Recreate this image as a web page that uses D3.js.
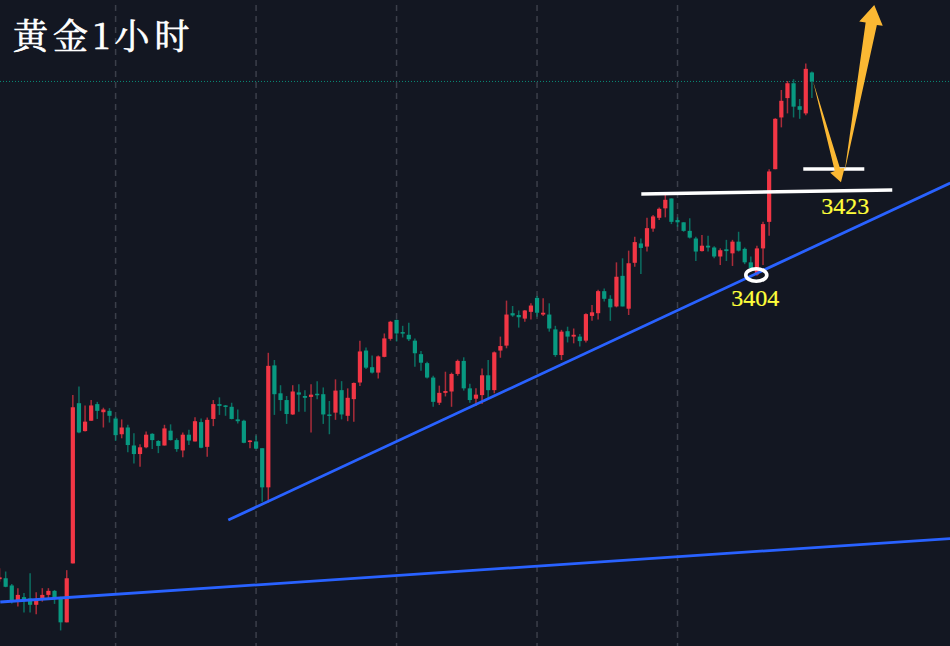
<!DOCTYPE html>
<html>
<head>
<meta charset="utf-8">
<script src="https://cdn.jsdelivr.net/npm/d3@7"></script>
<style>
  html, body { margin: 0; padding: 0; background: #131722; overflow: hidden; }
</style>
</head>
<body>
<svg id="chart" width="950" height="646"></svg>
<script>
// 1 hour gold candles, prices
var opens = [
  3336.3,3336.5,3334.9,3331.5,3332.3,3332.0,3330.6,3332.0,3332.8,3333.7,
  3332.0,3326.7,3339.8,3375.4,3369.2,3371.5,3375.2,3373.4,3373.7,3372.0,
  3368.5,3370.0,3366.0,3364.1,3365.6,3368.6,3367.0,3366.0,3369.3,3367.2,
  3364.9,3368.4,3366.9,3371.2,3365.7,3371.9,3375.2,3374.9,3374.6,3371.8,
  3371.5,3366.8,3366.9,3365.4,3356.7,3383.8,3377.6,3376.1,3372.9,3377.8,
  3377.0,3376.8,3377.5,3377.4,3372.9,3373.3,3378.3,3372.6,3376.3,3380.0,
  3387.1,3383.4,3382.2,3385.7,3389.7,3393.9,3391.2,3390.6,3389.3,3386.3,
  3384.3,3381.1,3375.5,3377.7,3378.0,3381.9,3384.8,3378.7,3376.4,3377.2,
  3381.6,3378.3,3387.1,3388.2,3395.4,3395.0,3394.2,3395.7,3398.8,3395.1,
  3395.1,3391.8,3386.1,3391.4,3390.2,3390.2,3389.3,3394.8,3395.4,3400.3,
  3398.6,3396.9,3403.7,3396.4,3406.6,3410.9,3410.2,3414.2,3416.6,3418.7,
  3420.9,3416.1,3415.6,3413.7,3412.0,3409.2,3410.4,3410.0,3408.0,3409.6,
  3408.7,3411.3,3409.7,3406.7,3404.0,3409.8,3415.7,3427.4,3438.9,3443.2,
  3446.5,3441.4,3439.8,3448.9
];
var highs = [
  3338.7,3338.0,3335.2,3334.3,3333.2,3337.6,3333.4,3334.3,3334.3,3333.9,
  3332.4,3338.3,3377.2,3379.1,3374.9,3376.1,3375.7,3374.4,3374.3,3372.4,
  3371.8,3370.6,3368.7,3366.3,3369.1,3368.7,3367.2,3370.6,3370.7,3367.6,
  3368.9,3369.5,3372.3,3372.0,3372.2,3376.1,3376.7,3375.0,3375.5,3374.0,
  3371.7,3367.2,3368.2,3365.4,3386.6,3385.0,3379.4,3377.0,3379.4,3379.6,
  3378.3,3379.6,3380.3,3378.9,3375.9,3380.7,3380.3,3378.7,3380.0,3389.3,
  3387.8,3386.0,3386.0,3390.9,3393.7,3394.0,3392.6,3393.3,3389.8,3387.0,
  3384.6,3381.5,3379.3,3382.4,3382.2,3385.1,3385.6,3379.7,3378.7,3383.1,
  3385.0,3386.9,3390.2,3398.2,3397.0,3396.0,3396.1,3397.6,3399.2,3398.7,
  3397.6,3392.6,3391.7,3392.4,3392.0,3390.8,3395.4,3397.2,3400.6,3400.9,
  3399.4,3406.7,3407.6,3409.3,3412.4,3412.0,3416.6,3417.2,3418.9,3421.7,
  3420.9,3416.7,3415.6,3416.5,3412.4,3412.8,3412.6,3410.3,3409.8,3411.7,
  3411.7,3413.5,3410.0,3408.0,3410.4,3415.7,3427.4,3438.7,3445.0,3447.0,
  3447.4,3443.0,3450.9,3449.1
];
var lows = [
  3335.7,3334.5,3330.9,3330.2,3328.9,3328.9,3328.5,3331.3,3332.0,3330.8,
  3324.9,3326.7,3339.8,3368.7,3369.1,3371.5,3371.9,3370.0,3371.1,3367.0,
  3367.6,3364.5,3362.0,3361.3,3365.4,3365.2,3364.3,3366.0,3367.1,3364.6,
  3363.4,3366.1,3366.9,3365.4,3363.5,3370.3,3372.8,3372.6,3371.8,3370.9,
  3366.5,3365.4,3365.2,3353.5,3353.3,3372.8,3373.7,3370.8,3372.8,3373.5,
  3373.5,3368.9,3376.3,3370.8,3368.5,3371.7,3371.8,3371.4,3371.3,3379.2,
  3383.0,3382.0,3380.9,3385.6,3389.3,3389.1,3390.0,3389.2,3383.5,3382.6,
  3380.9,3374.6,3375.0,3376.9,3374.6,3381.5,3378.2,3375.5,3374.8,3375.2,
  3376.5,3377.6,3385.5,3387.6,3394.6,3392.2,3393.5,3394.0,3394.6,3394.8,
  3391.3,3385.7,3385.0,3388.9,3388.7,3388.0,3388.9,3393.7,3394.0,3398.0,
  3393.7,3396.7,3396.9,3395.0,3405.7,3404.1,3409.1,3413.5,3416.1,3416.7,
  3415.2,3414.6,3413.5,3412.0,3407.0,3409.1,3409.1,3407.6,3406.1,3407.0,
  3405.9,3409.1,3406.3,3405.2,3403.7,3406.1,3412.6,3427.4,3436.7,3439.8,
  3438.9,3438.6,3439.4,3443.2
];
var closes = [
  3336.7,3334.6,3331.5,3332.8,3331.5,3330.6,3331.7,3332.8,3333.7,3332.0,
  3326.7,3336.5,3374.5,3368.9,3371.3,3374.9,3373.7,3374.0,3372.6,3368.3,
  3370.0,3366.1,3364.1,3365.6,3368.4,3367.2,3365.9,3369.8,3367.2,3365.2,
  3368.4,3367.1,3371.4,3365.5,3371.7,3375.2,3374.8,3374.6,3371.9,3371.4,
  3366.6,3367.1,3365.3,3356.7,3383.7,3377.4,3376.1,3373.0,3378.0,3377.3,
  3376.6,3377.3,3377.2,3372.9,3372.6,3378.2,3372.9,3376.6,3379.9,3386.9,
  3383.3,3382.2,3385.8,3389.8,3393.5,3390.9,3390.9,3389.6,3386.5,3384.4,
  3381.1,3375.7,3377.7,3378.1,3381.9,3384.8,3378.7,3376.1,3377.3,3381.6,
  3378.3,3386.7,3388.1,3395.1,3394.9,3394.5,3396.0,3397.1,3395.5,3395.5,
  3392.0,3386.1,3391.3,3390.2,3390.6,3389.2,3395.2,3395.6,3400.3,3398.6,
  3396.7,3403.5,3396.9,3406.5,3411.2,3409.9,3414.3,3416.9,3418.6,3420.6,
  3415.7,3415.6,3413.7,3412.2,3409.1,3410.4,3410.0,3408.0,3409.4,3409.2,
  3411.3,3409.3,3406.7,3405.4,3409.8,3415.2,3426.9,3438.6,3442.6,3446.5,
  3441.3,3440.6,3449.7,3446.9
];

// day separators, in bar numbers
var gridBars = [19, 42, 65, 88, 111];
var lastPrice = 3446.9;

// drawn on top of the chart, all as [bar, price]
var trendLines = [
  [[37.45, 3349.44], [155.66, 3424.33]],
  [[0.12, 3331.22], [155.66, 3345.33]]
];
var levelLines = [
  [[105.07, 3421.89], [146.16, 3422.78]],
  [[131.59, 3427.44], [141.58, 3427.44]]
];
var swingLow = [123.9, 3403.89];
var arrowDown = [[133.18, 3447], [137.6, 3427.6], [138.35, 3427.67], [137.76, 3424.49], [136.0, 3426.6], [136.75, 3427]];
var arrowUp = [[138.35, 3426.78], [143.64, 3459.44], [144.6, 3459.29], [143.21, 3463.89], [140.75, 3460.2], [141.8, 3460]];
var priceLabels = [
  { text: "3423", bar: 138.47, price: 3417.44 },
  { text: "3404", bar: 123.73, price: 3397 }
];
var title = "黄金1小时";

var width = 950, height = 646;
var upColor = "#f23645", downColor = "#089981", blue = "#2962ff", orange = "#fbb833", labelColor = "#ffff3b";

var svg = d3.select("#chart");

// 6.108 px a bar, bar 19 sits at x=115.6
var x = d3.scaleLinear().domain([19, 134]).range([115.6, 818]);
var y = d3.scaleLinear().domain([3465, 3465 - height / 4.5]).range([0, height]);

svg.append("rect").attr("width", width).attr("height", height).attr("fill", "#131722");

// vertical grid
svg.selectAll("line.grid").data(gridBars).enter().append("line")
  .attr("class", "grid")
  .attr("x1", d => x(d)).attr("x2", d => x(d))
  .attr("y1", 5).attr("y2", height)
  .attr("stroke", "#3b3f4a")
  .attr("stroke-width", 1.5)
  .attr("stroke-dasharray", "6 5");

// last price line
svg.append("line")
  .attr("x1", 0).attr("x2", width)
  .attr("y1", y(lastPrice)).attr("y2", y(lastPrice))
  .attr("stroke", "#089981")
  .attr("stroke-width", 1)
  .attr("stroke-dasharray", "1 2")
  .attr("opacity", 0.9);

// candles
var bars = d3.range(opens.length);
var barColor = i => closes[i] >= opens[i] ? upColor : downColor;

svg.selectAll("line.wick").data(bars).enter().append("line")
  .attr("class", "wick")
  .attr("x1", i => x(i)).attr("x2", i => x(i))
  .attr("y1", i => y(highs[i])).attr("y2", i => y(lows[i]))
  .attr("stroke", barColor)
  .attr("stroke-width", 1.5)
  .attr("opacity", 0.68);

svg.selectAll("rect.body").data(bars).enter().append("rect")
  .attr("class", "body")
  .attr("x", i => x(i) - 2.1)
  .attr("width", 4.2)
  .attr("y", i => y(Math.max(opens[i], closes[i])))
  .attr("height", i => Math.max(1.5, Math.abs(y(opens[i]) - y(closes[i]))))
  .attr("fill", barColor);

// trend lines and levels
var line = d3.line().x(d => x(d[0])).y(d => y(d[1]));

svg.selectAll("path.trend").data(trendLines).enter().append("path")
  .attr("class", "trend")
  .attr("d", line)
  .attr("fill", "none")
  .attr("stroke", blue)
  .attr("stroke-width", 2.8);

svg.selectAll("path.level").data(levelLines).enter().append("path")
  .attr("class", "level")
  .attr("d", line)
  .attr("fill", "none")
  .attr("stroke", "#ffffff")
  .attr("stroke-width", 3.4);

// circle on the swing low
svg.append("ellipse")
  .attr("cx", x(swingLow[0])).attr("cy", y(swingLow[1]))
  .attr("rx", 10.5).attr("ry", 6.2)
  .attr("fill", "none")
  .attr("stroke", "#ffffff")
  .attr("stroke-width", 3.6);

// arrows
svg.selectAll("path.arrow").data([arrowDown, arrowUp]).enter().append("path")
  .attr("class", "arrow")
  .attr("d", d => line(d) + "Z")
  .attr("fill", orange);

// texts
svg.selectAll("text.price").data(priceLabels).enter().append("text")
  .attr("class", "price")
  .attr("x", d => x(d.bar)).attr("y", d => y(d.price))
  .attr("text-anchor", "middle")
  .attr("font-family", "'Liberation Serif', serif")
  .attr("font-size", 24)
  .attr("fill", labelColor)
  .attr("stroke", labelColor)
  .attr("stroke-width", 0.2)
  .text(d => d.text);

svg.append("text")
  .attr("x", 13).attr("y", 49)
  .attr("font-family", "'Noto Serif CJK SC', 'Liberation Serif', 'Noto Sans CJK SC', serif")
  .attr("font-size", 35)
  .attr("letter-spacing", 5)
  .attr("fill", "#ffffff")
  .attr("stroke", "#ffffff")
  .attr("stroke-width", 0.7)
  .text(title);
</script>
</body>
</html>
